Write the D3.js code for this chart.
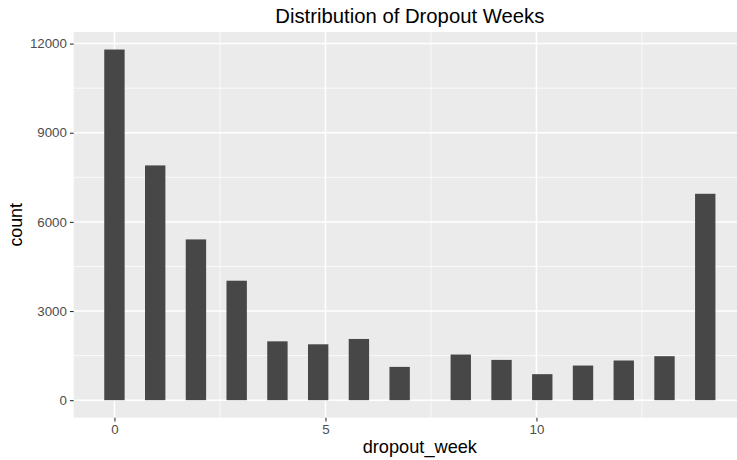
<!DOCTYPE html>
<html>
<head>
<meta charset="utf-8">
<script src="https://cdn.jsdelivr.net/npm/d3@7"></script>
<style>
  html, body { margin: 0; padding: 0; background: #fff; }
  svg { display: block; font-family: "Liberation Sans", Arial, Helvetica, sans-serif; }
</style>
</head>
<body>
<svg id="chart" width="737" height="460"></svg>
<script>
// ---- data ----
const weeks  = [0, 1, 2, 3, 4, 5, 6, 7, 8, 9, 10, 11, 12, 13, 14];
const counts = [11800, 7900, 5410, 4020, 1980, 1880, 2060, 1120, 1535, 1355, 875, 1165, 1335, 1480, 6945];
const xTicks = [0, 5, 10];
const yTicks = [0, 3000, 6000, 9000, 12000];
const titleText = "Distribution of Dropout Weeks";
const xTitle = "dropout_week";
const yTitle = "count";
const nBins = 30;

// ---- histogram binning (ggplot style: bins=30, closed right) ----
const minW = d3.min(weeks), maxW = d3.max(weeks);
const binW = (maxW - minW) / (nBins - 1);
const bars = weeks.map((w, i) => {
  const idx = Math.ceil((w - minW) / binW - 0.5 - 1e-9);
  const c = minW + idx * binW;
  return { x0: c - binW / 2, x1: c + binW / 2, count: counts[i] };
});

// ---- layout ----
const svg = d3.select("#chart");
const panel = { left: 73.7, top: 32, bottom: 417.7 };
const xLo = minW - binW / 2, xHi = maxW + binW / 2;
const xPad = (xHi - xLo) * 0.05;
const yMax = d3.max(counts), yPad = yMax * 0.05;
const pxPerUnit = 42.2;
const xDomain = [xLo - xPad, xHi + xPad];
const panelRight = panel.left + (xDomain[1] - xDomain[0]) * pxPerUnit;

const x = d3.scaleLinear().domain(xDomain).range([panel.left, panelRight]);
const y = d3.scaleLinear().domain([-yPad, yMax + yPad]).range([panel.bottom, panel.top]);

// panel background
svg.append("rect")
  .attr("x", panel.left).attr("y", panel.top)
  .attr("width", panelRight - panel.left).attr("height", panel.bottom - panel.top)
  .attr("fill", "#EBEBEB");

// minor grid
const xMinor = xTicks.slice(0, -1).map((t, i) => (t + xTicks[i + 1]) / 2).concat([xTicks[xTicks.length - 1] + (xTicks[1] - xTicks[0]) / 2]);
const yMinor = yTicks.slice(0, -1).map((t, i) => (t + yTicks[i + 1]) / 2);
svg.append("g").selectAll("line").data(xMinor).join("line")
  .attr("x1", d => x(d)).attr("x2", d => x(d))
  .attr("y1", panel.top).attr("y2", panel.bottom)
  .attr("stroke", "#fff").attr("stroke-width", 0.75);
svg.append("g").selectAll("line").data(yMinor).join("line")
  .attr("x1", panel.left).attr("x2", panelRight)
  .attr("y1", d => y(d)).attr("y2", d => y(d))
  .attr("stroke", "#fff").attr("stroke-width", 0.75);

// major grid
svg.append("g").selectAll("line").data(xTicks).join("line")
  .attr("x1", d => x(d)).attr("x2", d => x(d))
  .attr("y1", panel.top).attr("y2", panel.bottom)
  .attr("stroke", "#fff").attr("stroke-width", 1.5);
svg.append("g").selectAll("line").data(yTicks).join("line")
  .attr("x1", panel.left).attr("x2", panelRight)
  .attr("y1", d => y(d)).attr("y2", d => y(d))
  .attr("stroke", "#fff").attr("stroke-width", 1.5);

// bars
svg.append("g").selectAll("rect").data(bars).join("rect")
  .attr("x", d => x(d.x0)).attr("width", d => x(d.x1) - x(d.x0))
  .attr("y", d => y(d.count)).attr("height", d => y(0) - y(d.count))
  .attr("fill", "#474747");

// axes
const xAxis = d3.axisBottom(x).tickValues(xTicks).tickSize(3.8).tickPadding(3).tickFormat(d3.format("d"));
const yAxis = d3.axisLeft(y).tickValues(yTicks).tickSize(3.8).tickPadding(3).tickFormat(d3.format("d"));

const gx = svg.append("g").attr("transform", `translate(0,${panel.bottom})`).call(xAxis);
const gy = svg.append("g").attr("transform", `translate(${panel.left},0)`).call(yAxis);
[gx, gy].forEach(g => {
  g.select(".domain").remove();
  g.selectAll(".tick line").attr("stroke", "#333").attr("stroke-width", 1.1);
  g.selectAll(".tick text").attr("fill", "#4D4D4D").attr("font-size", "13.3px")
    .attr("font-family", "'Liberation Sans', Arial, sans-serif");
});

// titles
svg.append("text")
  .attr("x", (panel.left + panelRight) / 2).attr("y", 22.5)
  .attr("text-anchor", "middle").attr("font-size", "20.3px").attr("fill", "#000")
  .text(titleText);
svg.append("text")
  .attr("x", (panel.left + panelRight) / 2 + 10).attr("y", 453)
  .attr("text-anchor", "middle").attr("font-size", "18.2px").attr("fill", "#000")
  .text(xTitle);
svg.append("text")
  .attr("transform", `translate(22,${(panel.top + panel.bottom) / 2}) rotate(-90)`)
  .attr("text-anchor", "middle").attr("font-size", "17.8px").attr("fill", "#000")
  .text(yTitle);
</script>
</body>
</html>
